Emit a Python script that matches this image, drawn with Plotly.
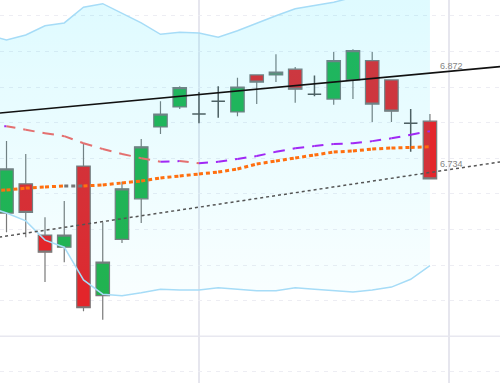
import plotly.graph_objects as go

# ---------------- data ----------------
X = list(range(23))
OPEN  = [6.673, 6.714, 6.642, 6.625, 6.739, 6.557, 6.636, 6.693, 6.794, 6.822, 6.812, 6.830,
         6.815, 6.867, 6.867, 6.875, 6.840, 6.833, 6.860, 6.887, 6.860, 6.799, 6.802]
HIGH  = [6.774, 6.756, 6.667, 6.690, 6.771, 6.660, 6.717, 6.777, 6.830, 6.851, 6.843, 6.851,
         6.863, 6.868, 6.896, 6.878, 6.866, 6.899, 6.903, 6.899, 6.861, 6.819, 6.812]
LOW   = [6.646, 6.639, 6.576, 6.604, 6.535, 6.523, 6.631, 6.659, 6.784, 6.819, 6.799, 6.807,
         6.809, 6.826, 6.857, 6.828, 6.837, 6.825, 6.833, 6.801, 6.801, 6.759, 6.720]
CLOSE = [6.735, 6.674, 6.618, 6.642, 6.540, 6.604, 6.707, 6.766, 6.812, 6.849, 6.812, 6.830,
         6.850, 6.857, 6.871, 6.847, 6.840, 6.887, 6.901, 6.826, 6.816, 6.799, 6.721]

BAND_X = list(range(-1, 23))
UPPER  = [6.923, 6.916, 6.923, 6.936, 6.940, 6.962, 6.967, 6.954, 6.940, 6.924, 6.927, 6.926,
          6.920, 6.929, 6.940, 6.950, 6.960, 6.964, 6.969, 6.976, 6.981, 6.983, 6.981, 6.975]
LOWER  = [6.682, 6.673, 6.662, 6.635, 6.625, 6.579, 6.559, 6.557, 6.561, 6.566, 6.565, 6.565,
          6.568, 6.566, 6.564, 6.564, 6.568, 6.566, 6.564, 6.562, 6.565, 6.569, 6.580, 6.599]
MIDDLE = [6.794, 6.795, 6.790, 6.785, 6.781, 6.771, 6.763, 6.756, 6.750, 6.745, 6.746, 6.743,
          6.745, 6.749, 6.753, 6.759, 6.764, 6.767, 6.770, 6.771, 6.774, 6.778, 6.783, 6.788]
EMA    = [6.7045, 6.7053, 6.7080, 6.7096, 6.7110, 6.7110, 6.7124, 6.7152, 6.7180, 6.7222,
          6.7250, 6.7278, 6.7306, 6.7348, 6.7419, 6.7461, 6.7503, 6.7545, 6.7587, 6.7601,
          6.7629, 6.7643, 6.7652, 6.7660]

TREND_UP_X, TREND_UP_Y = [0, 23], [6.8143, 6.872]
TREND_LOW_X, TREND_LOW_Y = [0, 23], [6.6407, 6.734]
LABEL_UP, LABEL_LOW = "6.872", "6.734"

GRID_Y = [6.45, 6.55, 6.60, 6.65, 6.70, 6.75, 6.80, 6.85, 6.90, 6.95]
MAJOR_Y = 6.50
SPLIT_X = [10, 23]

X_RANGE = [-0.338, 25.64]
Y_RANGE = [6.4343, 6.9722]

# ---------------- figure ----------------
fig = go.Figure()

# Bollinger band fill
fig.add_trace(go.Scatter(x=BAND_X, y=LOWER, mode="lines",
                         line=dict(color="rgba(0,0,0,0)", width=0), hoverinfo="skip",
                         showlegend=False))
fig.add_trace(go.Scatter(x=BAND_X, y=UPPER, mode="lines", fill="tonexty",
                         line=dict(color="rgba(0,0,0,0)", width=0),
                         fillgradient=dict(type="vertical",
                                           colorscale=[[0, "rgba(0,225,255,0.025)"],
                                                       [1, "rgba(0,220,255,0.13)"]]),
                         hoverinfo="skip", showlegend=False))
for band in (UPPER, LOWER):
    fig.add_trace(go.Scatter(x=BAND_X, y=band, mode="lines",
                             line=dict(color="#a6dcf7", width=1.5),
                             hoverinfo="skip", showlegend=False))

# candles
norm = [i for i in X if abs(OPEN[i] - CLOSE[i]) > 0.0005]
doji = [i for i in X if abs(OPEN[i] - CLOSE[i]) <= 0.0005]


def pick(arr, idx):
    return [arr[i] for i in idx]


fig.add_trace(go.Candlestick(
    x=pick(X, norm), open=pick(OPEN, norm), high=pick(HIGH, norm),
    low=pick(LOW, norm), close=pick(CLOSE, norm),
    increasing=dict(line=dict(color="#7a7a7a", width=1.2), fillcolor="#22b14c"),
    decreasing=dict(line=dict(color="#7a7a7a", width=1.2), fillcolor="#e3252a"),
    showlegend=False))
fig.add_trace(go.Candlestick(
    x=pick(X, doji), open=pick(OPEN, doji), high=pick(HIGH, doji),
    low=pick(LOW, doji), close=pick(CLOSE, doji),
    increasing=dict(line=dict(color="#555555", width=1.5), fillcolor="#555555"),
    decreasing=dict(line=dict(color="#555555", width=1.5), fillcolor="#555555"),
    showlegend=False))


# trendlines (extended straight lines)
def extend(xs, ys, x0, x1):
    s = (ys[1] - ys[0]) / (xs[1] - xs[0])
    return [x0, x1], [ys[0] + s * (x0 - xs[0]), ys[0] + s * (x1 - xs[0])]


tx, ty = extend(TREND_LOW_X, TREND_LOW_Y, -1, 27)
fig.add_trace(go.Scatter(x=tx, y=ty, mode="lines",
                         line=dict(color="#555555", width=1.5, dash="3px,3px"),
                         hoverinfo="skip", showlegend=False))

# middle band, coloured by direction
for k in range(len(BAND_X) - 1):
    up = MIDDLE[k + 1] >= MIDDLE[k]
    fig.add_trace(go.Scatter(x=BAND_X[k:k + 2], y=MIDDLE[k:k + 2], mode="lines",
                             line=dict(color="#a028f5" if up else "#e47070", width=2,
                                       dash="9px,8px"),
                             hoverinfo="skip", showlegend=False))

# EMA, coloured by direction (flat = gray)
for k in range(len(BAND_X) - 1):
    d = EMA[k + 1] - EMA[k]
    col = "#ff6f0f" if d > 0.0002 else "#777777"
    fig.add_trace(go.Scatter(x=BAND_X[k:k + 2], y=EMA[k:k + 2], mode="lines",
                             line=dict(color=col, width=3, dash="4px,3px"),
                             hoverinfo="skip", showlegend=False))

tx, ty = extend(TREND_UP_X, TREND_UP_Y, -1, 27)
fig.add_trace(go.Scatter(x=tx, y=ty, mode="lines",
                         line=dict(color="#111111", width=1.6),
                         hoverinfo="skip", showlegend=False))

# labels
fig.add_annotation(x=22.42, y=TREND_UP_Y[1], text=LABEL_UP, showarrow=False,
                   xanchor="left", yanchor="bottom", yshift=-2,
                   font=dict(family="Liberation Sans, Arial", size=9, color="#858585"))
fig.add_annotation(x=22.42, y=TREND_LOW_Y[1], text=LABEL_LOW, showarrow=False,
                   xanchor="left", yanchor="bottom", yshift=-1,
                   font=dict(family="Liberation Sans, Arial", size=9, color="#858585"))

# solid major grid line
fig.add_shape(type="line", xref="paper", x0=0, x1=1, yref="y", y0=MAJOR_Y, y1=MAJOR_Y,
              line=dict(color="#e8e8f0", width=1.5), layer="below")

fig.update_layout(
    width=500, height=383, margin=dict(l=0, r=0, t=0, b=0),
    paper_bgcolor="white", plot_bgcolor="white",
    showlegend=False, boxgap=0.3, boxgroupgap=0,
    xaxis=dict(range=X_RANGE, tickvals=SPLIT_X, showticklabels=False, ticks="",
               showgrid=True, gridcolor="#e6e6ee", gridwidth=1.5, zeroline=False,
               showline=False, rangeslider=dict(visible=False), fixedrange=True),
    yaxis=dict(range=Y_RANGE, tickvals=GRID_Y, showticklabels=False, ticks="",
               showgrid=True, gridcolor="#ededf3", gridwidth=1, griddash="4px,5px",
               zeroline=False, showline=False, fixedrange=True),
)

fig.write_html("out.html")
